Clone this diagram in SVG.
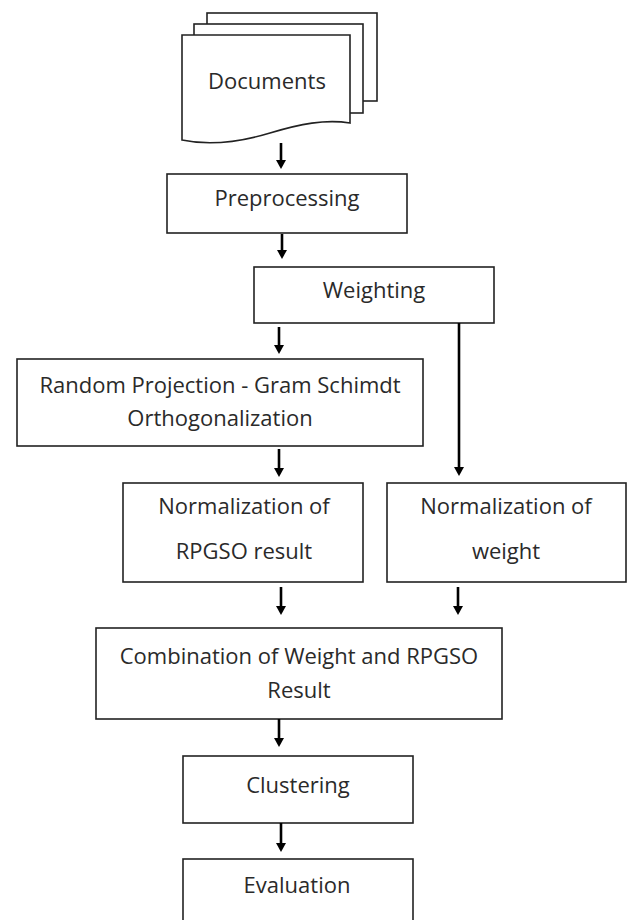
<svg xmlns="http://www.w3.org/2000/svg" width="628" height="920" viewBox="0 0 628 920">
<style>
.box{fill:#fff;stroke:#222;stroke-width:1.6}
.t{font-family:"Open Sans","Noto Sans",sans-serif;font-size:22px;fill:#2a2a2a;text-anchor:middle}
.c{stroke:#000;stroke-width:2.6;fill:none}
</style>
<defs>
<marker id="ah" markerWidth="11" markerHeight="11" refX="0" refY="5" orient="auto" markerUnits="userSpaceOnUse">
<path d="M0,0 L9,5 L0,10 z" fill="#000"/>
</marker>
</defs>
<rect width="628" height="920" fill="#fff"/>
<g id="documents">
<rect class="box" x="207" y="13" width="170" height="88"/>
<rect class="box" x="194" y="24" width="169" height="89"/>
<path class="box" d="M182,35 L350,35 L350,123 C325,119 300,124 270,133 C240,142 210,146 182,140 Z"/>
<text class="t" x="267" y="89">Documents</text>
</g>
<g id="preprocessing">
<rect class="box" x="167" y="174" width="240" height="59"/>
<text class="t" x="287" y="206">Preprocessing</text>
</g>
<g id="weighting">
<rect class="box" x="254" y="267" width="240" height="56"/>
<text class="t" x="374" y="298">Weighting</text>
</g>
<g id="rpgso">
<rect class="box" x="17" y="359" width="406" height="87"/>
<text class="t" x="220" y="393">Random Projection - Gram Schimdt</text>
<text class="t" x="220" y="426">Orthogonalization</text>
</g>
<g id="norm-rpgso">
<rect class="box" x="123" y="483" width="240" height="99"/>
<text class="t" x="244" y="514">Normalization of</text>
<text class="t" x="244" y="559">RPGSO result</text>
</g>
<g id="norm-weight">
<rect class="box" x="387" y="483" width="239" height="99"/>
<text class="t" x="506" y="514">Normalization of</text>
<text class="t" x="506" y="559">weight</text>
</g>
<g id="combination">
<rect class="box" x="96" y="628" width="406" height="91"/>
<text class="t" x="299" y="664">Combination of Weight and RPGSO</text>
<text class="t" x="299" y="698">Result</text>
</g>
<g id="clustering">
<rect class="box" x="183" y="756" width="230" height="67"/>
<text class="t" x="298" y="793">Clustering</text>
</g>
<g id="evaluation">
<rect class="box" x="183" y="859" width="230" height="80"/>
<text class="t" x="297" y="893">Evaluation</text>
</g>
<g id="connectors">
<line class="c" x1="281" y1="143" x2="281" y2="160" marker-end="url(#ah)"/>
<line class="c" x1="282" y1="234" x2="282" y2="250" marker-end="url(#ah)"/>
<line class="c" x1="279" y1="327" x2="279" y2="345" marker-end="url(#ah)"/>
<line class="c" x1="459" y1="323" x2="459" y2="467" marker-end="url(#ah)"/>
<line class="c" x1="279" y1="449" x2="279" y2="468" marker-end="url(#ah)"/>
<line class="c" x1="281" y1="587" x2="281" y2="606" marker-end="url(#ah)"/>
<line class="c" x1="458" y1="587" x2="458" y2="606" marker-end="url(#ah)"/>
<line class="c" x1="279" y1="719" x2="279" y2="738" marker-end="url(#ah)"/>
<line class="c" x1="281" y1="823" x2="281" y2="843" marker-end="url(#ah)"/>
</g>
</svg>
